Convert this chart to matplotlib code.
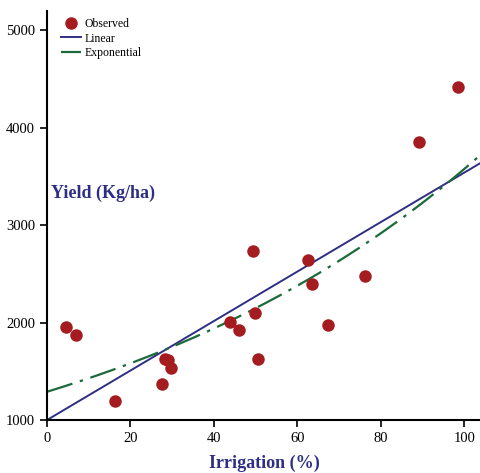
import numpy as np
import matplotlib
matplotlib.use("Agg")
import matplotlib.pyplot as plt

# observed points
irrigation = [4.5, 7.0, 16.3, 27.5, 28.2, 29.0, 29.7, 43.8, 46.0, 49.3,
              49.8, 50.5, 62.5, 63.4, 67.3, 76.1, 89.1, 98.6]
yield_kg = [1955, 1875, 1200, 1370, 1625, 1620, 1535, 2005, 1925, 2735,
            2100, 1625, 2640, 2400, 1975, 2475, 3855, 4415]

# fitted model coefficients
lin_intercept = 1000
lin_slope = 25.4
exp_a = 1290
exp_b = 0.0102

xticks = [0, 20, 40, 60, 80, 100]
yticks = [1000, 2000, 3000, 4000, 5000]

plt.rcParams["font.family"] = ["Liberation Serif", "DejaVu Serif"]

fig = plt.figure(figsize=(4.81, 4.73), dpi=100)
ax = fig.add_axes([0.0977, 0.112, 0.9023, 0.865])

xs = np.linspace(0, 104, 200)
ax.plot(irrigation, yield_kg, "o", color="#a51c20", markersize=9,
        markeredgewidth=0, label="Observed", zorder=3)
ax.plot(xs, lin_intercept + lin_slope * xs, color="#2e2e84", lw=1.4,
        label="Linear")
ax.plot(xs, exp_a * np.exp(exp_b * xs), color="#1b6b3a", lw=1.6,
        dashes=(12, 3.5, 1.5, 3.5), label="Exponential")

ax.set_xlim(0, 104)
ax.set_ylim(1000, 5200)
ax.set_xticks(xticks)
ax.set_yticks(yticks)
ax.spines["top"].set_visible(False)
ax.spines["right"].set_visible(False)
ax.spines["left"].set_linewidth(1.5)
ax.spines["bottom"].set_linewidth(1.5)
ax.tick_params(direction="out", length=5, width=1.2, labelsize=10.5)

ax.set_xlabel("Irrigation (%)", fontsize=13, fontweight="bold",
              color="#2e2e84", labelpad=7)
ax.text(0.01, 0.555, "Yield (Kg/ha)", transform=ax.transAxes, fontsize=13,
        fontweight="bold", color="#2e2e84", va="center", ha="left")

ax.legend(loc="upper left", frameon=False, fontsize=8.5, handlelength=1.7,
          handletextpad=0.3, labelspacing=0.22, borderaxespad=0.2,
          markerscale=1.0, bbox_to_anchor=(0.015, 1.0))

fig.savefig("out.png", dpi=100)
plt.close(fig)
